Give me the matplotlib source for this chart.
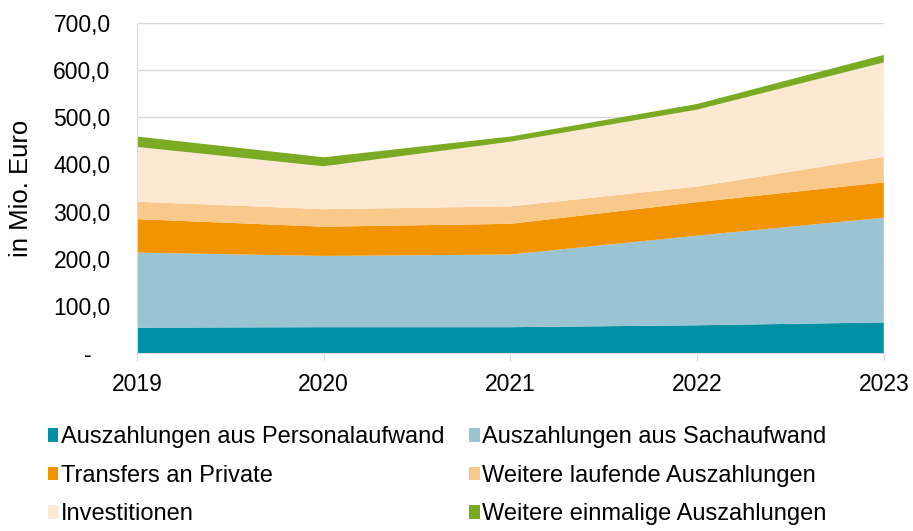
import numpy as np
import matplotlib.pyplot as plt
from matplotlib.patches import Patch
from matplotlib.ticker import FuncFormatter

plt.rcParams['font.family'] = ['Liberation Sans', 'DejaVu Sans']

# Values in Mio. Euro
years = [2019, 2020, 2021, 2022, 2023]
personal = [54, 55, 55, 59, 65]
sachaufwand = [159, 151, 154, 190, 222]
transfers = [71, 62, 65, 71, 75]
weitere_laufende = [37, 37, 37, 33, 54]
investitionen = [116, 91, 137, 163, 200]
einmalige = [22, 19, 11, 12, 16]

labels = [
    "Auszahlungen aus Personalaufwand",
    "Auszahlungen aus Sachaufwand",
    "Transfers an Private",
    "Weitere laufende Auszahlungen",
    "Investitionen",
    "Weitere einmalige Auszahlungen",
]
colors = ['#0090a6', '#9bc4d2', '#f29400', '#f9c98b', '#fde9d3', '#7aab22']
fs = 16.5

fig = plt.figure(figsize=(9.13, 5.31), dpi=100)
ax = fig.add_axes([0.150, 0.335, 0.818, 0.622])

ax.stackplot(years, personal, sachaufwand, transfers, weitere_laufende,
             investitionen, einmalige, colors=colors, linewidth=0)

ax.set_xlim(2019, 2023)
ax.set_ylim(0, 700)
ax.set_yticks(range(0, 701, 100))
ax.set_xticks(years)
ax.yaxis.set_major_formatter(FuncFormatter(
    lambda v, p: '-   ' if v == 0 else f"{v:.1f}".replace('.', ',')))
ax.grid(axis='y', color='#d9d9d9', linewidth=1)
ax.set_axisbelow(True)

for s in ['top', 'right']:
    ax.spines[s].set_visible(False)
ax.spines['left'].set_color('#d9d9d9')
ax.spines['bottom'].set_color('#d9d9d9')
ax.tick_params(axis='y', length=0, labelsize=fs, pad=19)
ax.tick_params(axis='x', length=6, color='#d9d9d9', labelsize=fs, pad=8)
ax.set_ylabel('in Mio. Euro', fontsize=18.5)
ax.yaxis.set_label_coords(-0.139, 0.5)

# legend fills row by row like the original
order = [0, 2, 4, 1, 3, 5]
handles = [Patch(facecolor=colors[i], edgecolor='none') for i in order]
fig.legend(handles, [labels[i] for i in order], loc='upper left',
           bbox_to_anchor=(0.042, 0.215), ncol=2, frameon=False, fontsize=17,
           handlelength=0.45, handleheight=0.5, handletextpad=0.1,
           columnspacing=1.05, labelspacing=0.7, borderaxespad=0)

fig.savefig('out.png', dpi=100)
